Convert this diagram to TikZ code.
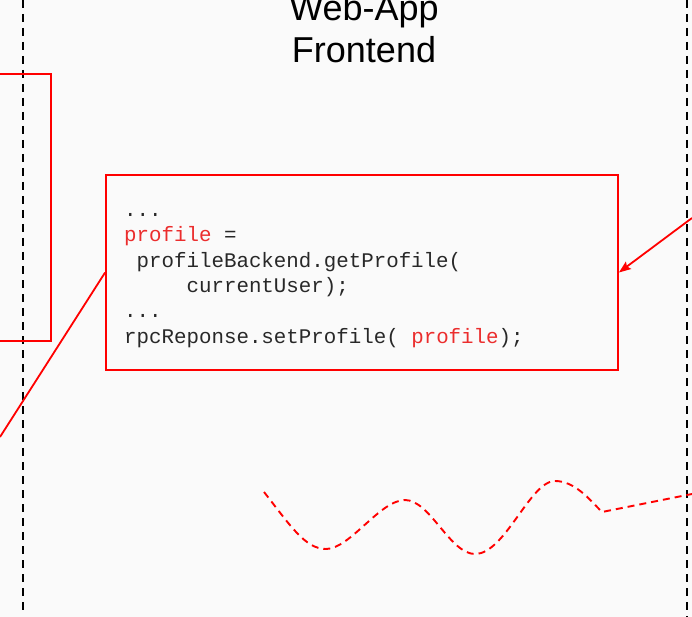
\documentclass[tikz,border=0pt]{standalone}
\usepackage{fontspec}
\usetikzlibrary{arrows.meta}
\newfontfamily\codefont{Liberation Mono}
\newfontfamily\titlefont{Liberation Sans}
\definecolor{bgcol}{RGB}{250,250,250}
\definecolor{boxred}{RGB}{255,0,0}
\definecolor{codered}{RGB}{235,45,45}
\definecolor{codeblack}{RGB}{40,40,40}
\tikzset{
  redbox/.style={draw=boxred, line width=1.8pt, rectangle, inner sep=0pt},
  lane/.style={draw=black, line width=2pt, dash pattern=on 8pt off 6pt},
  redline/.style={draw=boxred, line width=1.8pt},
  wave/.style={draw=boxred, line width=1.9pt, dash pattern=on 7pt off 5pt},
  codetxt/.style={font=\codefont\fontsize{20.8}{25.4}\selectfont, text=codeblack, align=left, inner sep=0pt, anchor=north west},
  titletxt/.style={font=\titlefont\fontsize{36}{42}\selectfont, text=black, align=center, inner sep=0pt, anchor=north}
}
\newcommand{\hl}[1]{\textcolor{codered}{#1}}
\begin{document}
\begin{tikzpicture}[x=1pt,y=-1pt]
\useasboundingbox (0,0) rectangle (692,617);
\fill[bgcol] (0,0) rectangle (692,617);
\clip (0,0) rectangle (692,617);

% lane separators
\coordinate (ltop) at (23,0);
\coordinate (lbot) at (23,610);
\coordinate (rtop) at (687,0);
\coordinate (rbot) at (687,617);
\draw[lane] (ltop) -- (lbot);
\draw[lane] (rtop) -- (rbot);

% title
\node[titletxt] (title) at (364,-10) {\rule{0pt}{30pt}Web-App\\Frontend};

% left partial box
\node[redbox, minimum width=111pt, minimum height=267pt] (leftbox) at (-4.5,207.5) {};

% code box
\node[redbox, minimum width=512pt, minimum height=195pt] (code) at (362,272.5) {};
\node[codetxt] (codetext) at (124,200) {\rule{0pt}{16pt}...\\
\hl{profile} =\\
\ profileBackend.getProfile(\\
\ \ \ \ \ currentUser);\\
...\\
rpcReponse.setProfile( \hl{profile});};

% connectors
\coordinate (lout) at (0,437);
\coordinate (rin) at (692,218);
\draw[redline] (code.west) -- (lout);
\draw[redline, -{Stealth[length=12pt,width=9pt,inset=2pt]}] (rin) -- (code.east);

% wavy dashed line
\coordinate (w0) at (264,492);
\coordinate (w1) at (326,549);
\coordinate (w2) at (405,500);
\coordinate (w3) at (475,554);
\coordinate (w4) at (555,481);
\coordinate (w5) at (602,512);
\coordinate (w6) at (692,494);
\draw[wave] (w0) .. controls (290,525) and (305,549) .. (w1)
  .. controls (350,549) and (380,500) .. (w2)
  .. controls (430,500) and (450,554) .. (w3)
  .. controls (505,554) and (530,481) .. (w4)
  .. controls (575,481) and (590,500) .. (w5)
  -- (w6);
\end{tikzpicture}
\end{document}
